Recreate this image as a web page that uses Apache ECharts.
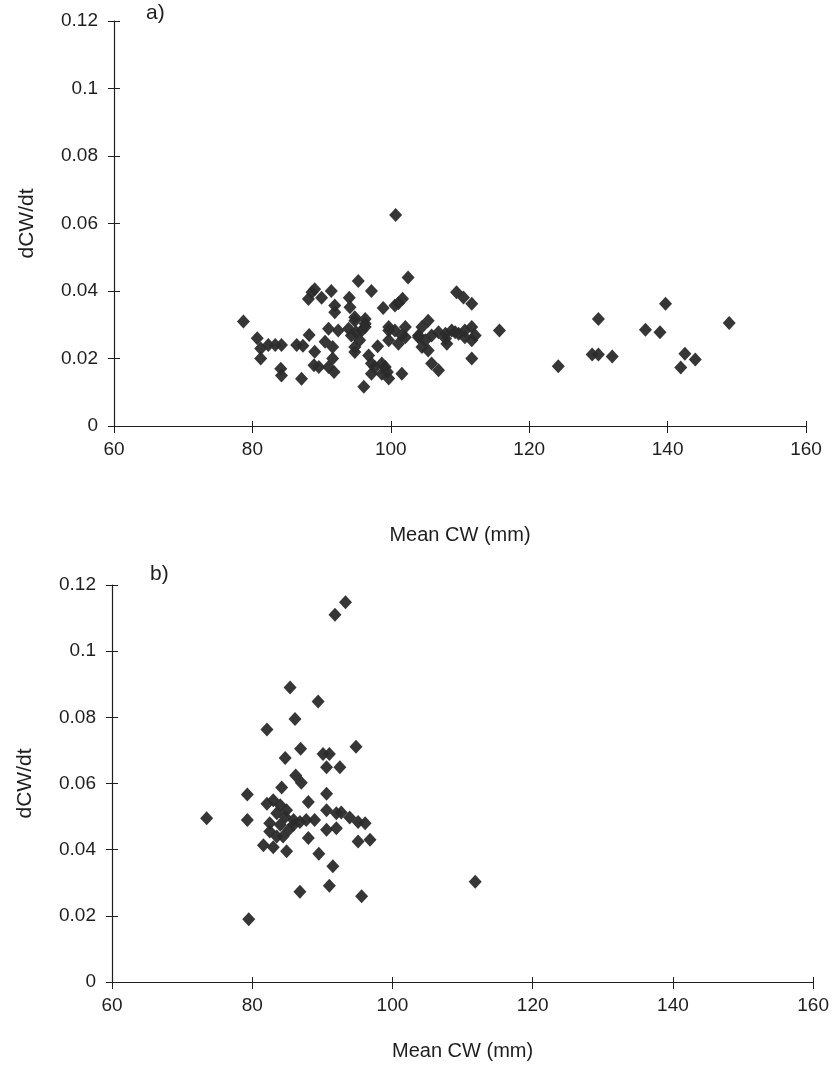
<!DOCTYPE html>
<html>
<head>
<meta charset="utf-8">
<script src="https://cdn.jsdelivr.net/npm/echarts@6/dist/echarts.min.js"></script>
<style>
html,body{margin:0;padding:0;background:#fff;}
#chart{width:832px;height:1067px;}
</style>
</head>
<body>
<div id="chart"></div>
<script>
// Panel a) : [Mean CW (mm), dCW/dt]
const panelA = [
  [78.7,0.031],[80.7,0.026],[81.2,0.023],[81.2,0.020],[82.3,0.024],[83.3,0.024],[84.2,0.024],
  [84.1,0.017],[84.2,0.015],[86.4,0.024],[87.3,0.0238],[87.1,0.014],[88.2,0.027],[89.0,0.022],
  [88.9,0.018],[88.1,0.0376],[88.6,0.0396],[89.0,0.0405],[90.0,0.038],[91.4,0.040],[91.9,0.0357],
  [91.9,0.0337],[90.5,0.025],[91.6,0.0234],[91.6,0.020],[89.6,0.0175],[91.0,0.0175],[91.8,0.016],
  [91.0,0.0288],[92.4,0.0283],[93.9,0.0288],[94.0,0.038],[94.1,0.0352],[95.3,0.043],[97.2,0.040],
  [94.8,0.0312],[94.8,0.0322],[95.0,0.0278],[95.8,0.0283],[94.3,0.0268],[96.3,0.0317],[96.3,0.0293],
  [96.3,0.0303],[94.8,0.0219],[94.8,0.0234],[95.5,0.0254],[96.8,0.0209],[98.1,0.0236],[97.2,0.0185],
  [97.7,0.0175],[98.7,0.0185],[98.7,0.0155],[99.2,0.0175],[99.5,0.016],[99.7,0.0141],[97.2,0.0155],
  [96.1,0.0116],[98.9,0.035],[99.7,0.0293],[99.7,0.0283],[99.7,0.0254],[100.6,0.0357],[101.1,0.0364],
  [101.7,0.0377],[102.5,0.044],[100.7,0.0625],[100.6,0.0283],[101.6,0.0268],[101.1,0.0244],
  [102.1,0.0293],[102.1,0.0263],[101.6,0.0155],
  [104.0,0.0268],[104.5,0.0293],[105.4,0.0312],[104.0,0.0263],[105.0,0.0254],[105.9,0.0268],
  [106.9,0.0278],[107.9,0.0259],[107.9,0.0273],[108.8,0.0283],[109.3,0.0278],[109.8,0.0273],
  [110.7,0.0263],[110.7,0.0283],[111.7,0.0293],[112.2,0.0268],[111.7,0.0254],
  [104.5,0.0234],[105.4,0.0224],[108.1,0.0244],[105.9,0.0185],[106.9,0.0165],[111.7,0.020],
  [109.5,0.0396],[110.5,0.0381],[111.7,0.0362],[115.7,0.0283],[124.2,0.0177],
  [129.1,0.0212],[130.0,0.0212],[132.0,0.0206],[130.0,0.0317],
  [136.8,0.0285],[138.9,0.0278],[139.7,0.0362],[141.9,0.0173],[142.5,0.0214],[144.0,0.0197],
  [148.9,0.0305]
];
// Panel b)
const panelB = [
  [73.5,0.0495],[79.3,0.0567],[79.3,0.049],[79.5,0.019],
  [82.1,0.0763],[84.7,0.0677],[85.4,0.089],[86.1,0.0795],[86.9,0.0705],[89.4,0.0848],[90.1,0.0689],[91.0,0.0689],
  [91.8,0.111],[93.3,0.1148],[94.8,0.0711],
  [86.2,0.0624],[87.0,0.0602],[90.6,0.0649],[92.5,0.0649],
  [84.2,0.0588],[90.6,0.0569],[88.0,0.0544],
  [82.1,0.0539],[83.0,0.0549],[84.0,0.0534],[84.9,0.0519],[83.5,0.051],[84.7,0.0499],[85.9,0.049],
  [82.5,0.048],[84.0,0.0475],[85.9,0.0475],[86.8,0.0484],[87.7,0.049],[88.9,0.049],[82.5,0.0455],
  [83.5,0.044],[85.2,0.046],[84.4,0.044],
  [90.6,0.0519],[92.0,0.051],[92.7,0.0512],[93.9,0.0497],[95.1,0.0484],[96.1,0.048],
  [90.6,0.046],[92.0,0.0465],[95.1,0.0425],[96.8,0.043],
  [81.6,0.0413],[83.0,0.0407],[84.9,0.0395],
  [88.0,0.0435],[89.5,0.0388],[91.5,0.035],[91.0,0.0291],[86.8,0.0273],[95.6,0.0259],
  [111.8,0.0303]
];
const xTicks = [60, 80, 100, 120, 140, 160];
const yTicks = [0, 0.02, 0.04, 0.06, 0.08, 0.1, 0.12];
const panelLabels = ['a)', 'b)'];
const xTitle = 'Mean CW (mm)';
const yTitle = 'dCW/dt';

const FONT = '"Liberation Sans", Arial, sans-serif';
const INK = '#1e1e1e';
const chart = echarts.init(document.getElementById('chart'), null, {renderer: 'canvas'});

const grids = [
  {left: 114, top: 21, width: 692, height: 405},
  {left: 112, top: 585, width: 708, height: 397}
];

function xAx(gi, withLabels) {
  return {
    type: 'value', gridIndex: gi, position: 'bottom',
    min: xTicks[0], max: xTicks[xTicks.length - 1], interval: 20,
    axisLine: {show: withLabels, onZero: false, lineStyle: {color: INK, width: 1.2}},
    axisTick: {show: true, inside: !withLabels, length: withLabels ? 7 : 5, lineStyle: {color: INK, width: 1}},
    axisLabel: {show: withLabels, color: INK, fontFamily: FONT, fontSize: 19, margin: 14},
    splitLine: {show: false},
    name: withLabels ? xTitle : '', nameLocation: 'middle', nameGap: gi === 0 ? 99 : 59,
    nameTextStyle: {color: INK, fontFamily: FONT, fontSize: 20}
  };
}
function yAx(gi, withLabels) {
  return {
    type: 'value', gridIndex: gi, position: 'left',
    min: yTicks[0], max: yTicks[yTicks.length - 1], interval: 0.02,
    axisLine: {show: withLabels, onZero: false, lineStyle: {color: INK, width: 1.2}},
    axisTick: {show: true, inside: !withLabels, length: 6, lineStyle: {color: INK, width: 1}},
    axisLabel: {show: withLabels, color: INK, fontFamily: FONT, fontSize: 19, margin: 16,
      formatter: v => String(+v.toFixed(2))},
    splitLine: {show: false},
    name: withLabels ? yTitle : '', nameLocation: 'middle', nameRotate: 90, nameGap: 76,
    nameTextStyle: {color: INK, fontFamily: FONT, fontSize: 21}
  };
}

const option = {
  backgroundColor: '#ffffff',
  animation: false,
  grid: grids,
  xAxis: [xAx(0, true), xAx(1, true), xAx(0, false), xAx(1, false)],
  yAxis: [yAx(0, true), yAx(1, true), yAx(0, false), yAx(1, false)],
  graphic: [
    {type: 'text', left: 146, top: 3, style: {text: panelLabels[0], fill: INK, font: '21px ' + FONT}},
    {type: 'text', left: 150, top: 564, style: {text: panelLabels[1], fill: INK, font: '21px ' + FONT}}
  ],
  series: [
    {type: 'scatter', xAxisIndex: 0, yAxisIndex: 0, data: panelA, symbol: 'diamond', symbolSize: [13, 14],
      itemStyle: {color: '#2b2b2b', opacity: 0.95}},
    {type: 'scatter', xAxisIndex: 1, yAxisIndex: 1, data: panelB, symbol: 'diamond', symbolSize: [13, 14],
      itemStyle: {color: '#2b2b2b', opacity: 0.95}}
  ]
};
chart.setOption(option);
</script>
</body>
</html>
